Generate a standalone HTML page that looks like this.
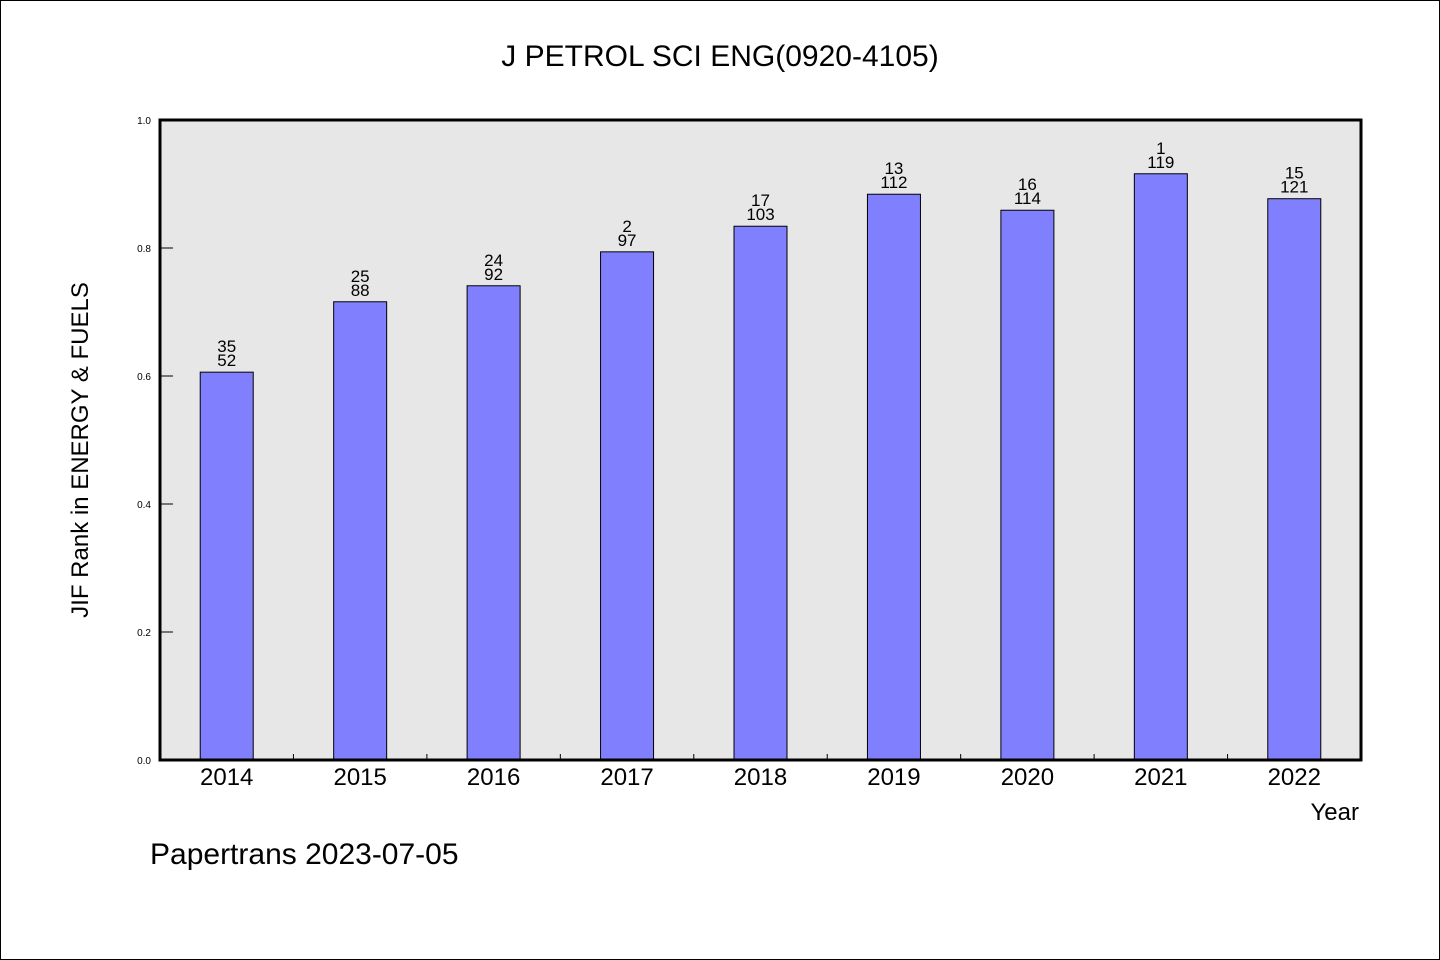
<!DOCTYPE html>
<html><head><meta charset="utf-8"><style>
html,body{margin:0;padding:0;background:#fff}
svg{display:block}
text{font-family:"WenQuanYi Zen Hei","Liberation Sans",sans-serif;fill:#000}
</style></head><body>
<svg id="chart" width="1440" height="960" viewBox="0 0 1440 960" xmlns="http://www.w3.org/2000/svg">
<rect x="0.5" y="0.5" width="1439" height="959" fill="#fff" stroke="#000"/>
<text x="720" y="66" font-size="30" text-anchor="middle">J PETROL SCI ENG(0920-4105)</text>
<rect x="160" y="120" width="1201" height="640" fill="#e7e7e7"/>
<g id="bars"></g>
<g id="axes"></g>
<rect x="160" y="120" width="1201" height="640" fill="none" stroke="#000" stroke-width="3"/>
<text transform="translate(88,450) rotate(-90)" font-size="24" text-anchor="middle">JIF Rank in ENERGY &amp; FUELS</text>
<text x="1359" y="820" font-size="24" text-anchor="end">Year</text>
<text x="150" y="864" font-size="30">Papertrans 2023-07-05</text>
</svg>
<script>
const categories=["2014","2015","2016","2017","2018","2019","2020","2021","2022"];
const values=[0.606,0.716,0.741,0.794,0.834,0.884,0.859,0.916,0.877];
const ranks=["35","25","24","2","17","13","16","1","15"];
const totals=["52","88","92","97","103","112","114","119","121"];
const yTicks=[0,0.2,0.4,0.6,0.8,1.0];
const yTickLabels=["0.0","0.2","0.4","0.6","0.8","1.0"];

const NS="http://www.w3.org/2000/svg";
const X0=160,X1=1361,Y0=760,Y1=120;
const band=(X1-X0)/categories.length;
const xc=i=>X0+band*(i+0.5);
const y=v=>Y0-(v/1)*(Y0-Y1);
function mk(tag,attrs,parent){const e=document.createElementNS(NS,tag);for(const k in attrs)e.setAttribute(k,attrs[k]);parent.appendChild(e);return e;}
const gb=document.getElementById('bars'),ga=document.getElementById('axes');
const bw=53;
categories.forEach((c,i)=>{
  const r=mk('rect',{x:xc(i)-bw/2,y:y(values[i]),width:bw,height:Y0-y(values[i]),fill:'#8080ff',stroke:'#000','stroke-width':1},gb);
  
  
  const t1=mk('text',{x:xc(i),y:y(values[i])-20,'font-size':17,'text-anchor':'middle'},gb);
  t1.textContent=ranks[i];
  
  
  const t2=mk('text',{x:xc(i),y:y(values[i])-6,'font-size':17,'text-anchor':'middle'},gb);
  t2.textContent=totals[i];
  
  
  const xl=mk('text',{x:xc(i),y:785,'font-size':24,'text-anchor':'middle'},ga);
  xl.textContent=c;
  
  
  if(i>0){const tk=mk('line',{x1:X0+band*i,x2:X0+band*i,y1:Y0,y2:Y0-6,stroke:'#000','stroke-width':1},ga);
  
  }
});
yTicks.forEach((v,i)=>{
  const tk=mk('line',{x1:X0,x2:X0+13,y1:y(v),y2:y(v),stroke:'#000','stroke-width':1},ga);
  
  
  const tl=mk('text',{x:151,y:y(v)+4,'font-size':10,'text-anchor':'end'},ga);
  tl.textContent=yTickLabels[i];
  
  
});
</script>
</body></html>
